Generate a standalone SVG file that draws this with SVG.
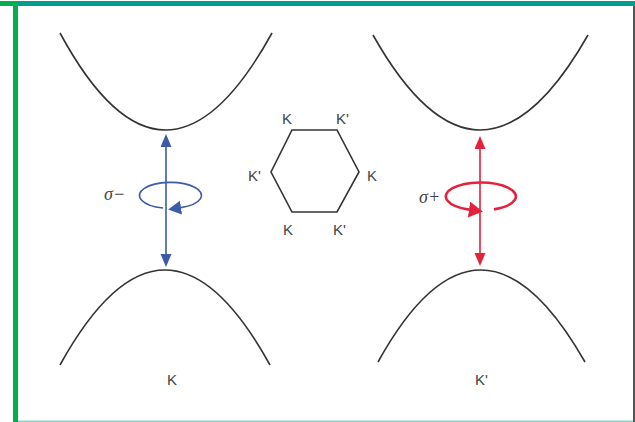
<svg xmlns="http://www.w3.org/2000/svg" width="635" height="422" viewBox="0 0 635 422">
<style>
.band{fill:none;stroke:#333;stroke-width:1.6}
.lbl{font-family:"Liberation Sans",Arial,sans-serif;font-size:15px;fill:#444}
.sig{font-family:"Liberation Serif","Times New Roman",serif;font-size:18px;font-style:italic;fill:#444}
.blue{stroke:#3d5aa8;fill:none;stroke-width:1.6}
.red{stroke:#e3233c;fill:none;stroke-width:1.6}
.redthick{stroke:#e3233c;fill:none;stroke-width:2.6}
</style>
<defs>
<marker id="ab" markerUnits="userSpaceOnUse" markerWidth="14" markerHeight="12" refX="0" refY="5.5" orient="auto-start-reverse" viewBox="0 0 14 12"><path d="M0,0 L13,5.5 L0,11 z" fill="#3d5aa8"/></marker>
<marker id="ar" markerUnits="userSpaceOnUse" markerWidth="14" markerHeight="12" refX="0" refY="5.5" orient="auto-start-reverse" viewBox="0 0 14 12"><path d="M0,0 L13,5.5 L0,11 z" fill="#e3233c"/></marker>
<marker id="abc" markerUnits="userSpaceOnUse" markerWidth="14" markerHeight="16" refX="0" refY="7" orient="auto" viewBox="0 0 14 16"><path d="M0,0 L13,7 L0,14 z" fill="#3d5aa8"/></marker>
<marker id="arc" markerUnits="userSpaceOnUse" markerWidth="16" markerHeight="18" refX="0" refY="8" orient="auto" viewBox="0 0 16 18"><path d="M0,0 L14,8 L0,16 z" fill="#e3233c"/></marker>
</defs>
<rect width="635" height="422" fill="#fff"/>
<g id="frame">
<rect x="0" y="1" width="635" height="5" fill="#009e8c"/>
<rect x="0" y="1" width="16" height="5" fill="#00b050"/>
<rect x="13" y="1" width="5" height="421" fill="#00b050"/>
<rect x="633" y="6" width="2" height="416" fill="#555"/>
<rect x="18" y="420.5" width="615" height="1.5" fill="#8fd3c9"/>
</g>
<g id="band-K-upper"><path class="band" d="M60,33 Q165,227 272,33"/></g>
<g id="band-K-lower"><path class="band" d="M60,365 Q165,175 270,365"/></g>
<g id="band-Kp-upper"><path class="band" d="M373,35 Q480,225 588,35"/></g>
<g id="band-Kp-lower"><path class="band" d="M378,362 Q480,178 585,362"/></g>
<g id="hexagon">
<path d="M292,130 L337,130 L359,172 L337,212 L292,212 L271,172 Z" fill="none" stroke="#333" stroke-width="1.6"/>
<text class="lbl" x="282" y="124">K</text>
<text class="lbl" x="336" y="124">K'</text>
<text class="lbl" x="248" y="181">K'</text>
<text class="lbl" x="367" y="181">K</text>
<text class="lbl" x="283" y="235">K</text>
<text class="lbl" x="333" y="235">K'</text>
</g>
<g id="connectors">
<line class="blue" x1="166" y1="147" x2="166" y2="254" marker-start="url(#ab)" marker-end="url(#ab)"/>
<path class="blue" d="M163,208 A31,13 0 1 1 181,207.6" marker-end="url(#abc)"/>
<line class="red" x1="480" y1="149" x2="480" y2="253" marker-start="url(#ar)" marker-end="url(#ar)"/>
<path class="redthick" d="M494,209.4 A35,14 0 1 0 469,209.6" marker-end="url(#arc)"/>
</g>
<g id="labels">
<text class="sig" x="104" y="200">σ−</text>
<text class="sig" x="419" y="203">σ+</text>
<text class="lbl" x="167" y="385">K</text>
<text class="lbl" x="475" y="385">K'</text>
</g>
</svg>
